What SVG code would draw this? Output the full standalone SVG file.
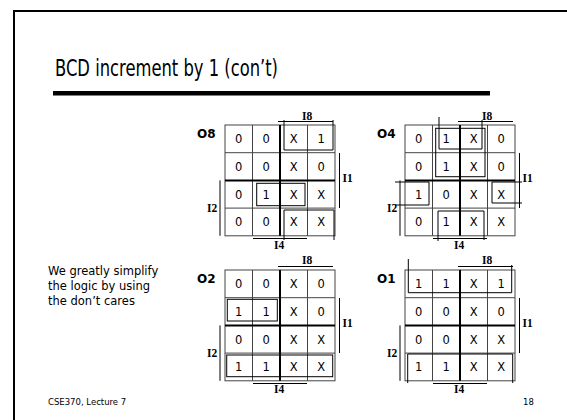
<svg xmlns="http://www.w3.org/2000/svg" xmlns:xlink="http://www.w3.org/1999/xlink" width="567" height="420" viewBox="0 0 567 420">
<style>
.title{font-family:"DejaVu Sans",sans-serif;font-size:23px;fill:#000}
.body{font-family:"DejaVu Sans",sans-serif;font-size:11.5px;fill:#000}
.foot{font-family:"DejaVu Sans",sans-serif;font-size:8.5px;fill:#000}
.out{font-family:"DejaVu Sans",sans-serif;font-size:12px;font-weight:bold;fill:#000}
.var{font-family:"Liberation Serif",serif;font-size:11.5px;font-weight:bold;fill:#000}
.cell{font-family:"DejaVu Sans",sans-serif;font-size:11.5px;fill:#000;text-anchor:middle}
.thin{stroke:#444;stroke-width:1;fill:none}
.thick{stroke:#000;stroke-width:2;fill:none}
.bar{stroke:#000;stroke-width:1;fill:none}
.grp{stroke:#000;stroke-width:1;fill:none}
</style>
<defs>
<g id="grid">
<rect x="0" y="0" width="110" height="110.8" fill="#fff" stroke="#444" stroke-width="1"/>
<path class="thin" d="M27.5,0V110.8M82.5,0V110.8M0,27.7H110M0,83.1H110"/>
<path class="thick" d="M55,0V110.8M0,55.4H110"/>
<path class="bar" d="M53,-3.5H108M114.5,28V83M-5,55.4V110.8M28,113.5H82"/>
</g>
</defs>
<rect width="567" height="420" fill="#fff"/>
<path d="M14,422V11H569" fill="none" stroke="#000" stroke-width="2"/>
<text class="title" x="55" y="76" textLength="223" lengthAdjust="spacingAndGlyphs">BCD increment by 1 (con’t)</text>
<rect x="53" y="91" width="437" height="4.5" fill="#000"/>
<g id="note">
<text class="body" x="48" y="275">We greatly simplify</text>
<text class="body" x="48" y="290">the logic by using</text>
<text class="body" x="48" y="305">the don’t cares</text>
</g>
<text class="foot" x="48" y="405">CSE370, Lecture 7</text>
<text class="foot" x="523" y="405">18</text>

<g id="kmap-o8">
<use xlink:href="#grid" href="#grid" x="225" y="125"/>
<text class="out" x="197" y="137.5">O8</text>
<text class="var" x="302" y="119.5">I8</text>
<text class="var" x="342.5" y="182">I1</text>
<text class="var" x="207" y="212">I2</text>
<text class="var" x="274" y="249">I4</text>
<text class="cell" x="238.75" y="143.2">0</text><text class="cell" x="266.25" y="143.2">0</text><text class="cell" x="293.75" y="143.2">X</text><text class="cell" x="321.25" y="143.2">1</text>
<text class="cell" x="238.75" y="170.9">0</text><text class="cell" x="266.25" y="170.9">0</text><text class="cell" x="293.75" y="170.9">X</text><text class="cell" x="321.25" y="170.9">0</text>
<text class="cell" x="238.75" y="198.6">0</text><text class="cell" x="266.25" y="198.6">1</text><text class="cell" x="293.75" y="198.6">X</text><text class="cell" x="321.25" y="198.6">X</text>
<text class="cell" x="238.75" y="226.3">0</text><text class="cell" x="266.25" y="226.3">0</text><text class="cell" x="293.75" y="226.3">X</text><text class="cell" x="321.25" y="226.3">X</text>
<path class="grp" d="M284,120V150H333V120"/>
<path class="grp" d="M284,240V210H334V240"/>
<rect class="grp" x="256.7" y="183.3" width="48.3" height="22.4"/>
</g>

<g id="kmap-o4">
<use xlink:href="#grid" href="#grid" x="405" y="125"/>
<text class="out" x="377" y="137.5">O4</text>
<text class="var" x="482" y="119.5">I8</text>
<text class="var" x="522.5" y="182">I1</text>
<text class="var" x="387" y="212">I2</text>
<text class="var" x="454" y="249">I4</text>
<text class="cell" x="418.75" y="143.2">0</text><text class="cell" x="446.25" y="143.2">1</text><text class="cell" x="473.75" y="143.2">X</text><text class="cell" x="501.25" y="143.2">0</text>
<text class="cell" x="418.75" y="170.9">0</text><text class="cell" x="446.25" y="170.9">1</text><text class="cell" x="473.75" y="170.9">X</text><text class="cell" x="501.25" y="170.9">0</text>
<text class="cell" x="418.75" y="198.6">1</text><text class="cell" x="446.25" y="198.6">0</text><text class="cell" x="473.75" y="198.6">X</text><text class="cell" x="501.25" y="198.6">X</text>
<text class="cell" x="418.75" y="226.3">0</text><text class="cell" x="446.25" y="226.3">1</text><text class="cell" x="473.75" y="226.3">X</text><text class="cell" x="501.25" y="226.3">X</text>
<rect class="grp" x="435.7" y="128.3" width="49.3" height="48.4"/>
<path class="grp" d="M439,117V149H482V120"/>
<path class="grp" d="M438,241V211H484V240"/>
<path class="grp" d="M395,182H429V205H395"/>
<path class="grp" d="M522,182H492V203H522"/>
</g>

<g id="kmap-o2">
<use xlink:href="#grid" href="#grid" x="225" y="270"/>
<text class="out" x="197" y="283.3">O2</text>
<text class="var" x="302" y="264">I8</text>
<text class="var" x="342.5" y="327">I1</text>
<text class="var" x="207" y="356.5">I2</text>
<text class="var" x="274" y="393.3">I4</text>
<text class="cell" x="238.75" y="288.2">0</text><text class="cell" x="266.25" y="288.2">0</text><text class="cell" x="293.75" y="288.2">X</text><text class="cell" x="321.25" y="288.2">0</text>
<text class="cell" x="238.75" y="315.9">1</text><text class="cell" x="266.25" y="315.9">1</text><text class="cell" x="293.75" y="315.9">X</text><text class="cell" x="321.25" y="315.9">0</text>
<text class="cell" x="238.75" y="343.6">0</text><text class="cell" x="266.25" y="343.6">0</text><text class="cell" x="293.75" y="343.6">X</text><text class="cell" x="321.25" y="343.6">X</text>
<text class="cell" x="238.75" y="371.3">1</text><text class="cell" x="266.25" y="371.3">1</text><text class="cell" x="293.75" y="371.3">X</text><text class="cell" x="321.25" y="371.3">X</text>
<rect class="grp" x="227.3" y="299.3" width="50" height="21.7"/>
<rect class="grp" x="226.7" y="355" width="106" height="21.7"/>
</g>

<g id="kmap-o1">
<use xlink:href="#grid" href="#grid" x="405" y="270"/>
<text class="out" x="377" y="283.3">O1</text>
<text class="var" x="482" y="264">I8</text>
<text class="var" x="522.5" y="327">I1</text>
<text class="var" x="387" y="356.5">I2</text>
<text class="var" x="454" y="393.3">I4</text>
<text class="cell" x="418.75" y="288.2">1</text><text class="cell" x="446.25" y="288.2">1</text><text class="cell" x="473.75" y="288.2">X</text><text class="cell" x="501.25" y="288.2">1</text>
<text class="cell" x="418.75" y="315.9">0</text><text class="cell" x="446.25" y="315.9">0</text><text class="cell" x="473.75" y="315.9">X</text><text class="cell" x="501.25" y="315.9">0</text>
<text class="cell" x="418.75" y="343.6">0</text><text class="cell" x="446.25" y="343.6">0</text><text class="cell" x="473.75" y="343.6">X</text><text class="cell" x="501.25" y="343.6">X</text>
<text class="cell" x="418.75" y="371.3">1</text><text class="cell" x="446.25" y="371.3">1</text><text class="cell" x="473.75" y="371.3">X</text><text class="cell" x="501.25" y="371.3">X</text>
<path class="grp" d="M408.3,259V292.7H511.7V265"/>
<path class="grp" d="M407.7,383V354H512.7V383"/>
</g>
</svg>
